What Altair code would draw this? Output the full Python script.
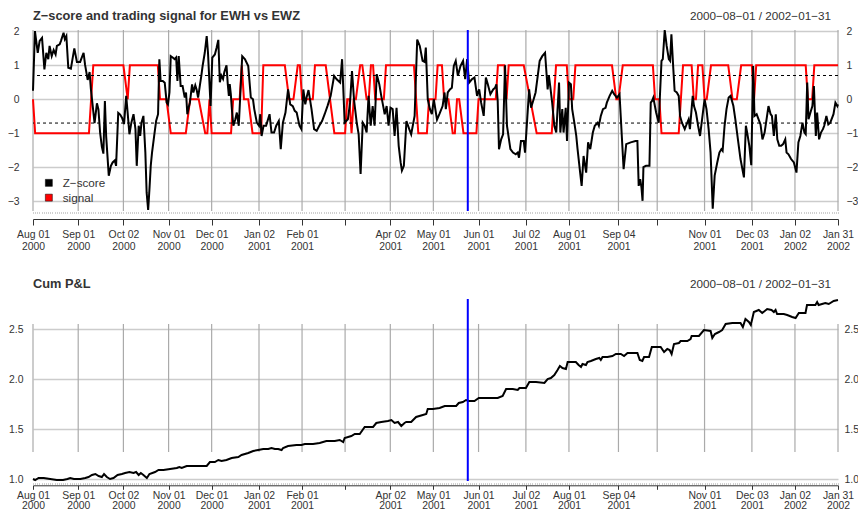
import altair as alt
import pandas as pd

# ---------------- text ----------------
TITLE_Z = "Z−score and trading signal for EWH vs EWZ"
TITLE_PNL = "Cum P&L"
DATE_RANGE = "2000−08−01 / 2002−01−31"
SERIES = ["Z−score", "signal"]
SERIES_COLORS = ["#000000", "#ff0000"]

# ---------------- x axis (trading-day index) ----------------
N_OBS = 375
MONTH_IDX = [0, 21, 42, 63, 83, 105, 125, 145, 166, 186, 207, 229, 249, 272, 290, 312, 334, 354, 374]
MONTH_DAY = ["Aug 01", "Sep 01", "Oct 02", "Nov 01", "Dec 01", "Jan 02", "Feb 01", "", "Apr 02",
             "May 01", "Jun 01", "Jul 02", "Aug 01", "Sep 04", "", "Nov 01", "Dec 03", "Jan 02", "Jan 31"]
MONTH_YEAR = ["2000", "2000", "2000", "2000", "2000", "2001", "2001", "", "2001",
              "2001", "2001", "2001", "2001", "2001", "", "2001", "2001", "2002", "2002"]

Z_TICKS = [-3, -2, -1, 0, 1, 2]
PNL_TICKS = [1.0, 1.5, 2.0, 2.5]
THRESHOLDS = [0.7, -0.7]
ENTRY_DAY = 202

# ---------------- series (trading day, value) ----------------
Z_SCORE = [
    (0.0, 0.25), (0.9, 2.01), (2.2, 1.37), (3.1, 1.72), (4.2, 1.81), (5.3, 0.88), (6.2, 1.37), (7.1, 1.18),
    (7.7, 1.57), (8.7, 1.27), (9.6, 1.45), (10.5, 1.32), (11.1, 1.57), (12.4, 1.62), (13.0, 1.72), (14.2, 1.96),
    (14.8, 1.77), (15.5, 1.86), (16.4, 0.93), (17.6, 0.90), (19.2, 1.50), (20.4, 1.10), (21.9, 1.10), (23.5, 1.37),
    (24.2, 1.01), (25.4, 0.57), (26.3, 0.80), (26.9, 0.30), (28.6, -0.70), (29.7, -0.12), (30.4, -0.30), (31.2, -1.00),
    (32.0, -1.40), (32.7, -1.60), (33.4, -0.05), (34.0, -1.10), (35.2, -2.25), (36.2, -1.96), (37.0, -1.86), (38.0, -1.80),
    (38.6, -1.96), (39.6, -0.40), (40.5, -0.45), (41.4, -0.55), (42.3, -0.73), (43.3, 0.10), (43.9, -0.34), (44.8, -1.03),
    (45.7, -0.69), (46.7, -0.44), (47.6, -0.88), (48.2, -1.96), (49.1, -0.78), (49.8, -1.08), (50.4, -0.69), (51.3, -0.49),
    (52.2, -1.57), (52.8, -2.75), (53.5, -3.26), (54.1, -2.65), (54.7, -1.96), (55.3, -1.57), (56.3, -1.08), (57.2, -0.64),
    (58.1, -0.44), (58.7, 1.18), (59.3, 0.54), (60.3, 0.54), (61.2, 0.49), (62.1, -0.10), (62.7, -0.15), (63.4, 0.20),
    (64.0, 1.27), (64.9, 1.23), (65.8, 1.18), (66.5, 1.23), (67.1, 0.54), (67.7, 1.27), (68.6, 0.39), (69.5, 0.39),
    (70.5, 0.05), (71.1, 0.20), (71.7, -0.44), (72.3, -0.25), (72.9, -0.10), (73.9, 0.44), (74.5, 0.20), (75.4, 0.41),
    (76.0, 0.29), (76.7, 0.05), (77.6, 0.44), (78.2, 0.69), (78.8, 0.98), (79.8, 1.37), (80.7, 1.86), (81.3, 1.37),
    (82.5, -0.20), (83.3, 1.23), (84.5, 1.32), (85.3, 1.52), (86.1, 1.75), (86.8, 0.50), (87.5, 0.70), (88.3, 0.60),
    (88.9, 0.80), (89.9, 1.00), (90.5, 0.44), (91.0, 0.10), (91.4, 0.45), (91.9, 0.15), (92.4, -0.30), (93.1, -0.78),
    (94.0, -0.59), (94.7, -0.39), (95.6, -0.78), (97.2, 1.27), (98.5, 1.18), (100.0, 0.98), (101.2, 0.05), (102.2, 0.00),
    (102.8, -0.29), (104.0, -0.69), (105.0, -0.78), (105.6, -0.44), (106.2, -1.08), (107.1, -0.78), (108.3, -0.78), (109.9, -0.44),
    (110.8, -0.98), (112.0, -0.98), (113.0, -0.78), (114.2, -0.64), (115.1, -1.47), (116.1, -0.69), (117.3, -0.39), (118.5, 0.29),
    (119.5, -0.15), (120.7, -0.20), (121.6, -0.34), (122.5, -0.39), (123.8, -0.78), (124.7, -0.88), (125.6, 0.29), (126.5, -0.15),
    (127.1, 0.05), (128.0, 0.27), (129.4, -0.29), (130.6, -0.88), (131.8, -0.93), (133.0, -0.78), (134.3, -0.64), (135.5, -0.44),
    (136.8, -0.20), (138.3, 0.10), (139.9, 0.69), (141.1, 0.59), (142.7, 0.49), (143.6, 1.18), (144.8, -0.69), (146.3, -0.59),
    (147.3, -0.10), (148.2, 0.83), (149.2, -0.05), (150.4, -0.69), (151.3, -1.03), (152.2, -2.20), (153.2, -0.69), (154.1, -0.78),
    (155.0, -0.98), (155.9, 0.10), (156.9, -0.78), (157.8, -0.20), (158.7, -0.78), (159.7, 0.74), (160.9, 0.44), (161.8, 0.10),
    (162.7, -0.20), (163.4, -0.44), (164.3, -0.20), (165.2, -0.78), (166.1, -0.25), (167.1, -0.29), (168.0, -1.08), (168.9, -0.25),
    (169.9, -1.37), (170.8, -1.86), (171.4, -2.10), (172.3, -1.96), (173.5, -0.64), (174.8, -0.88), (175.7, -1.03), (177.3, -0.49),
    (178.5, 1.76), (179.7, 1.57), (181.0, 1.13), (181.9, 1.10), (182.5, 1.52), (183.4, 0.00), (184.4, -0.29), (185.3, -0.44),
    (186.2, 0.00), (187.7, -0.60), (188.8, -0.44), (190.3, -0.20), (191.2, 0.20), (191.8, -0.29), (192.7, 0.20), (193.7, 0.29),
    (194.6, 0.34), (195.5, 0.98), (196.4, 1.13), (197.4, 0.69), (198.6, 0.98), (199.8, 1.13), (200.8, 0.59), (201.7, 1.18),
    (202.6, 0.49), (203.9, 0.59), (205.1, 0.64), (206.3, 0.10), (207.3, 0.29), (208.2, -0.10), (209.4, -0.49), (210.4, 0.64),
    (211.3, 0.44), (212.5, 0.15), (213.8, 0.29), (214.7, 0.34), (215.3, 0.44), (215.9, -0.05), (216.5, -1.47), (217.5, -1.18),
    (218.4, -1.03), (219.3, 1.00), (220.2, -0.78), (221.8, -1.47), (223.0, -1.57), (224.3, -1.62), (225.2, -1.57), (225.8, -1.72),
    (226.7, -1.23), (228.0, -1.23), (228.6, -1.57), (230.5, 0.29), (231.4, -0.25), (232.6, 0.00), (233.5, 0.20), (234.5, 0.69),
    (235.4, 1.13), (236.6, 1.27), (237.9, 1.37), (239.1, 0.29), (239.7, 0.69), (240.3, 0.39), (241.2, -0.10), (242.2, -0.78),
    (243.1, -0.98), (244.4, 0.49), (245.0, -0.98), (245.9, -0.29), (246.5, -0.98), (247.5, -0.25), (248.1, -1.23), (249.0, 0.49),
    (249.9, 0.44), (250.5, -0.29), (251.5, -0.69), (252.4, -1.08), (253.0, -1.47), (254.2, -2.16), (254.9, -2.55), (255.8, -1.67),
    (257.0, -2.16), (257.9, -1.27), (258.9, -1.47), (260.1, -0.98), (261.0, -0.78), (262.3, -0.69), (262.9, -0.78), (263.8, -0.49),
    (264.8, -0.29), (266.0, -0.25), (266.6, -0.10), (267.9, 0.10), (269.1, 0.25), (270.0, 0.15), (271.3, 0.05), (272.5, 0.15),
    (274.4, -2.06), (275.6, -1.32), (277.7, -1.27), (279.9, -1.23), (280.8, -1.23), (281.4, -2.55), (282.1, -2.35), (282.7, -2.60),
    (283.2, -2.99), (283.6, -2.00), (284.8, -1.96), (286.4, -1.96), (287.0, -0.10), (287.6, -0.05), (288.2, 0.05), (289.5, -0.39),
    (290.7, -0.69), (292.0, 1.13), (292.6, 1.18), (293.5, 2.04), (294.4, 1.57), (295.4, 1.18), (296.0, 1.13), (296.6, 1.91),
    (297.5, 0.88), (298.1, 0.25), (299.1, 0.20), (300.0, 0.10), (300.6, -0.49), (301.5, -0.69), (302.8, -0.88), (303.4, -0.78),
    (304.6, -0.59), (305.2, -0.88), (306.5, 0.10), (307.1, -0.20), (308.0, -0.39), (309.0, -0.78), (309.9, -1.08), (312.0, 0.00),
    (312.9, -0.29), (313.9, -0.88), (314.8, -1.57), (315.8, -3.22), (316.7, -2.25), (317.9, -1.86), (318.9, -1.57), (319.8, -1.47),
    (320.4, -1.52), (321.3, -0.78), (322.2, -0.29), (323.2, 0.05), (324.1, 0.10), (325.4, -0.20), (326.3, -0.59), (327.5, -1.18),
    (328.7, -1.76), (330.3, -2.30), (331.2, -0.78), (331.8, -0.98), (332.8, -1.37), (333.7, -1.94), (334.6, 0.98), (335.2, -0.49),
    (336.2, -0.44), (337.1, -0.59), (338.0, -0.74), (338.9, -1.18), (339.9, -0.98), (340.8, -0.59), (341.7, -0.20), (342.7, -0.44),
    (343.3, -0.49), (344.2, -1.08), (345.1, -0.44), (345.8, -1.18), (346.7, -1.37), (347.6, -1.37), (348.5, -1.32), (349.5, -1.18),
    (350.1, -1.57), (351.0, -1.62), (352.2, -1.76), (353.5, -1.86), (354.7, -2.16), (355.6, -1.27), (356.5, -1.08), (357.5, -0.69),
    (358.4, -0.98), (359.0, -1.03), (359.7, 0.49), (360.3, -0.59), (361.2, -0.39), (362.1, -0.20), (362.8, 0.39), (363.7, -1.08),
    (364.3, -0.39), (365.2, -1.18), (366.1, -0.98), (367.0, -0.88), (367.6, -0.78), (368.6, -0.49), (369.5, -0.74), (370.4, -0.69),
    (371.3, -0.54), (371.9, -0.44), (372.8, -0.10), (373.7, -0.20), (374.0, -0.15),
]

SIGNAL = [
    (0, 0), (1, -1), (26, -1), (28, 1), (42, 1), (44, 0), (45, 1), (58, 1), (59, 0), (62, 0), (64, -1), (71, -1),
    (73, 0), (77, 0), (80, -1), (81, -1), (82, 0), (83, -1), (92, -1), (93, 0), (96, 0), (97, 1), (98, 0), (100, 0),
    (102, -1), (106, -1), (107, 1), (117, 1), (119, 0), (121, 0), (123, 1), (124, 1), (125, 0), (130, 0), (131, 1),
    (136, 1), (140, -1), (145, -1), (146, 0), (147, 0), (148, -1), (149, 0), (150, 0), (152, 1), (153, 1), (155, 0),
    (156, 0), (157, 1), (158, 1), (159, 0), (163, 0), (164, 1), (177, 1), (179, -1), (183, -1), (184, 0), (187, 0),
    (188, 1), (190, 1), (191, 0), (193, 0), (195, -1), (196, -1), (197, 0), (198, 0), (200, -1), (206, -1), (207, 0),
    (215, 0), (216, 1), (219, 1), (220, 0), (221, 1), (228, 1), (234, -1), (241, -1), (242, 0), (243, 1), (248, 1),
    (249, 0), (251, 0), (252, 1), (269, 1), (271, 0), (272, 0), (274, 1), (288, 1), (289, 0), (291, 0), (292, -1),
    (300, -1), (301, 0), (302, 1), (306, 1), (307, 0), (308, 0), (309, 1), (311, 1), (312, 0), (313, 0), (315, 1),
    (323, 1), (325, 0), (327, 0), (329, 1), (334, 1), (335, 0), (336, 1), (359, 1), (360, 0), (362, 0), (363, 1),
    (374, 1),
]

CUM_PNL = [
    (0, 1.00), (1, 0.99), (2.6, 1.01), (5, 1.01), (8, 1.00), (11, 0.99), (14, 0.99), (16, 1.00), (17.3, 1.01),
    (19, 1.00), (22, 1.00), (24.3, 1.01), (25.8, 1.02), (27.4, 1.04), (29, 1.05), (30.5, 1.03), (32, 1.02),
    (33, 1.05), (34.3, 1.02), (35.8, 1.00), (37.4, 1.01), (39.3, 1.04), (41.3, 1.05), (42.8, 1.06), (44.8, 1.07),
    (46.7, 1.06), (47.9, 1.07), (49.1, 1.04), (50.1, 1.06), (51.3, 1.04), (52.9, 1.01), (54.1, 1.05), (56.7, 1.07),
    (58.3, 1.09), (60.6, 1.09), (63.7, 1.10), (66.8, 1.11), (68, 1.12), (69.1, 1.11), (71.4, 1.13), (74.5, 1.13),
    (80.7, 1.13), (82.2, 1.17), (84.5, 1.17), (86.1, 1.19), (87.6, 1.18), (89.9, 1.19), (92.3, 1.21), (95.4, 1.22),
    (96.9, 1.24), (100, 1.26), (102.3, 1.28), (104.6, 1.29), (107, 1.30), (109.3, 1.30), (110.8, 1.31), (112.4, 1.30),
    (113.9, 1.30), (115.5, 1.29), (116.2, 1.31), (118.5, 1.33), (122.4, 1.34), (124.7, 1.34), (126.3, 1.35),
    (130.1, 1.35), (133.2, 1.36), (136.3, 1.38), (140.2, 1.38), (142.5, 1.39), (144.1, 1.37), (144.8, 1.41),
    (147.9, 1.43), (149.5, 1.45), (151.8, 1.45), (154.1, 1.52), (158, 1.52), (159.5, 1.56), (161.8, 1.57),
    (164.9, 1.58), (166.5, 1.59), (168, 1.56), (169.6, 1.57), (171.1, 1.53), (172.6, 1.56), (173.4, 1.57),
    (175.7, 1.57), (178, 1.62), (181.1, 1.64), (182.7, 1.65), (183.4, 1.70), (185.8, 1.70), (188.9, 1.71),
    (191.3, 1.73), (196.6, 1.73), (197.8, 1.76), (199.7, 1.77), (201.2, 1.79), (202.5, 1.78), (205.1, 1.78),
    (207.1, 1.81), (215.9, 1.81), (218.2, 1.83), (219.8, 1.90), (222.9, 1.90), (225.2, 1.89), (226.0, 1.91),
    (229.0, 1.91), (230.6, 1.97), (233.7, 1.97), (237.6, 1.96), (239.1, 2.00), (240.6, 2.01), (242.2, 2.04),
    (243.7, 2.09), (244.8, 2.13), (246.0, 2.11), (247.6, 2.10), (248.4, 2.17), (252.2, 2.17), (253.5, 2.14),
    (254.6, 2.12), (255.3, 2.15), (256.9, 2.14), (257.6, 2.17), (259.2, 2.18), (261.5, 2.20), (263.1, 2.21),
    (263.8, 2.19), (264.6, 2.22), (266.9, 2.22), (269.2, 2.23), (270.8, 2.25), (273.1, 2.25), (274.6, 2.23),
    (276.2, 2.26), (280.8, 2.26), (281.9, 2.19), (283.1, 2.18), (283.9, 2.22), (286.2, 2.22), (287.5, 2.32),
    (291.6, 2.32), (293.2, 2.27), (294.7, 2.30), (295.8, 2.29), (296.7, 2.25), (297.8, 2.35), (300.1, 2.36),
    (300.9, 2.38), (304.0, 2.38), (305.5, 2.40), (306.0, 2.43), (309.4, 2.43), (311.7, 2.49), (314.8, 2.48),
    (315.6, 2.41), (316.8, 2.45), (318.7, 2.47), (320.2, 2.49), (321.8, 2.55), (324.9, 2.56), (328.7, 2.56),
    (329.8, 2.52), (331.0, 2.60), (332.6, 2.57), (333.5, 2.54), (334.9, 2.67), (337.2, 2.69), (338.8, 2.66),
    (341.1, 2.70), (343.1, 2.69), (344.2, 2.67), (345.0, 2.69), (345.7, 2.65), (348.8, 2.65), (350.4, 2.64),
    (352.7, 2.62), (354.3, 2.61), (355.8, 2.66), (358.9, 2.66), (359.6, 2.74), (363.5, 2.74), (364.3, 2.77),
    (365.0, 2.74), (366.6, 2.75), (368.1, 2.76), (369.7, 2.75), (372.0, 2.78), (374.0, 2.79),
]

# ---------------- layout / style ----------------
FONT = "Liberation Sans"
TXT = "#333333"
W, H = 805, 451
TOP_H = 181
BOT_TOP, BOT_BOTTOM = 269, 451

z_df = pd.DataFrame(Z_SCORE, columns=["day", "z"])
sig_df = pd.DataFrame(SIGNAL, columns=["day", "signal"])
pnl_df = pd.DataFrame(CUM_PNL, columns=["day", "pnl"])
month_df = pd.DataFrame({"day": MONTH_IDX})
thr_df = pd.DataFrame({"thr": THRESHOLDS})
entry_df = pd.DataFrame({"day": [ENTRY_DAY]})
series_df = pd.DataFrame({"series": SERIES})

x_scale = alt.Scale(domain=[0, N_OBS - 1], nice=False, zero=False)
y_top = alt.Scale(domain=[-3.29, 2.04], range=[TOP_H, 0], nice=False, zero=False)
y_bot = alt.Scale(domain=[0.98, 2.80], range=[BOT_BOTTOM, BOT_TOP], nice=False, zero=False)

parts = [f"datum.value == {i} ? ['{d}', '{y}']"
         for i, d, y in zip(MONTH_IDX, MONTH_DAY, MONTH_YEAR) if d]
label_expr = " : ".join(parts) + " : ''"


def month_axis(offset, tick, pad, line_h):
    return alt.Axis(orient="bottom", offset=offset, values=MONTH_IDX, labelExpr=label_expr,
                    tickSize=tick, tickColor=TXT, tickWidth=1, domain=True, domainColor=TXT,
                    domainWidth=1, labelFont=FONT, labelFontSize=10.4, labelColor=TXT,
                    labelPadding=pad, labelLineHeight=line_h, labelFlush=False,
                    labelOverlap=False, grid=False, title=None)


def obs_axis(offset):
    return alt.Axis(orient="bottom", offset=offset, values=list(range(N_OBS)), labels=False,
                    domain=False, tickSize=2, tickColor="#d0d0d0", tickWidth=1, grid=False,
                    title=None)


def y_axis(orient, values, fmt, grid, pad):
    return alt.Axis(orient=orient, values=values, format=fmt, ticks=False, tickSize=0,
                    domain=False, grid=grid, gridColor="#cccccc", gridWidth=1.5,
                    labelPadding=pad, labelFont=FONT, labelFontSize=10.4, labelColor=TXT,
                    title=None)


vgrid_top = alt.Chart(month_df).mark_rule(color="#aaaaaa", strokeWidth=1.2).encode(
    x=alt.X("day:Q", scale=x_scale, axis=month_axis(-262, 6, 4, 12)),
    y=alt.value(0), y2=alt.value(TOP_H))

vgrid_bot = alt.Chart(month_df).mark_rule(color="#aaaaaa", strokeWidth=1.2).encode(
    x=alt.X("day:Q", scale=x_scale, axis=month_axis(4.3, 4, 1, 10.5)),
    y=alt.Y(datum=2.55, scale=y_bot, axis=y_axis("right", PNL_TICKS, ".1f", False, 6)),
    y2=alt.datum(1.27))

signal_line = alt.Chart(sig_df).mark_line(color="#ff0000", strokeWidth=2).encode(
    x=alt.X("day:Q", scale=x_scale, axis=None),
    y=alt.Y("signal:Q", scale=y_top, axis=None))

z_line = alt.Chart(z_df).mark_line(color="#000000", strokeWidth=2).encode(
    x=alt.X("day:Q", scale=x_scale, axis=obs_axis(-269.5)),
    y=alt.Y("z:Q", scale=y_top, axis=y_axis("left", Z_TICKS, "d", True, 14)))

thr_rules = alt.Chart(thr_df).mark_rule(color="#000000", strokeWidth=1, strokeDash=[3, 3]).encode(
    y=alt.Y("thr:Q", scale=y_top, axis=y_axis("right", Z_TICKS, "d", False, 8)))

entry_top = alt.Chart(entry_df).mark_rule(color="#0000ff", strokeWidth=2).encode(
    x=alt.X("day:Q", scale=x_scale, axis=None), y=alt.value(0), y2=alt.value(TOP_H))

pnl_line = alt.Chart(pnl_df).mark_line(color="#000000", strokeWidth=2).encode(
    x=alt.X("day:Q", scale=x_scale, axis=obs_axis(1.5)),
    y=alt.Y("pnl:Q", scale=y_bot, axis=y_axis("left", PNL_TICKS, ".1f", True, 10)))

entry_bot = alt.Chart(entry_df).mark_rule(color="#0000ff", strokeWidth=2).encode(
    x=alt.X("day:Q", scale=x_scale, axis=None), y=alt.value(BOT_TOP), y2=alt.value(BOT_BOTTOM))

legend_layer = alt.Chart(series_df).mark_square(size=49, opacity=1).encode(
    x=alt.value(-300), y=alt.value(-300),
    fill=alt.Fill("series:N", scale=alt.Scale(domain=SERIES, range=SERIES_COLORS),
                  legend=alt.Legend(orient="none", legendX=10, legendY=147, title=None,
                                    symbolType="square", symbolSize=49, labelFont=FONT,
                                    labelFontSize=11.7, labelColor=TXT, labelOffset=8,
                                    rowPadding=1.8, padding=0, symbolStrokeColor="#000000",
                                    symbolStrokeWidth=0.5)))


def text_layer(txt, x, y, align, bold, size):
    return alt.Chart(pd.DataFrame({"t": [txt]})).mark_text(
        align=align, baseline="alphabetic", font=FONT, fontSize=size,
        fontWeight="bold" if bold else "normal", color=TXT).encode(
        x=alt.value(x), y=alt.value(y), text="t:N")


t1 = text_layer(TITLE_Z, 0, -10.5, "left", True, 12.8)
t2 = text_layer(DATE_RANGE, 798, -10.5, "right", False, 11.7)
t3 = text_layer(TITLE_PNL, 0, 257.5, "left", True, 12.8)
t4 = text_layer(DATE_RANGE, 798, 257.5, "right", False, 11.7)

chart = alt.layer(
    vgrid_top, vgrid_bot, signal_line, z_line, thr_rules, entry_top, pnl_line, entry_bot,
    legend_layer, t1, t2, t3, t4,
).resolve_scale(x="independent", y="independent").properties(
    width=W, height=H,
    padding={"left": 25, "top": 22, "right": 20, "bottom": 30},
    autosize=alt.AutoSizeParams(type="none"),
).configure_view(stroke=None)

chart.save("out.html", embed_options={"renderer": "svg", "actions": False})
